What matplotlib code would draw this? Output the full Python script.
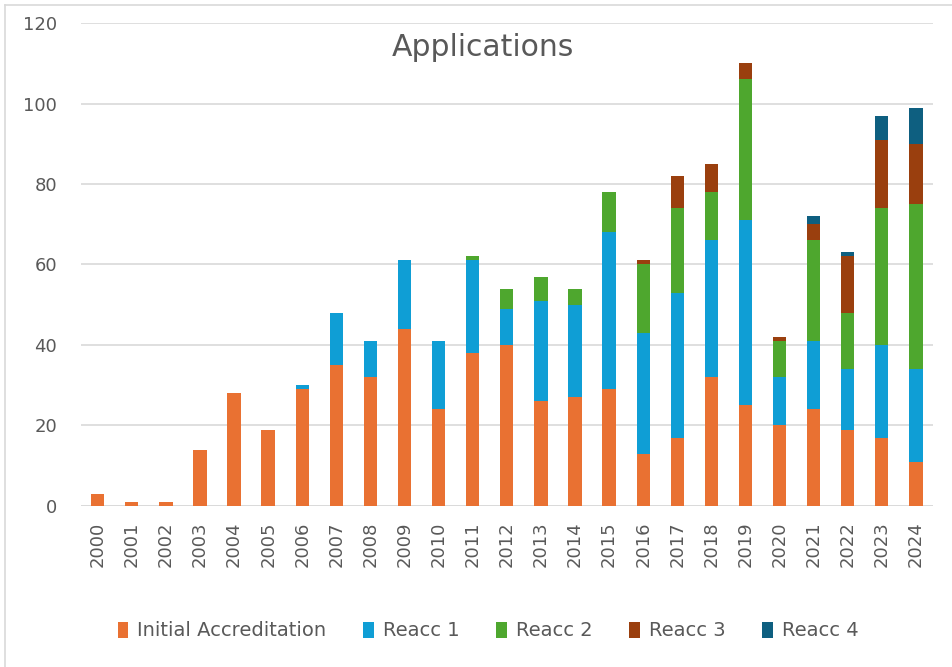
import numpy as np
import matplotlib
matplotlib.use("Agg")
import matplotlib.pyplot as plt
from matplotlib.lines import Line2D

plt.rcParams['font.family'] = ['DejaVu Sans']

years = [str(y) for y in range(2000, 2025)]
initial = [3, 1, 1, 14, 28, 19, 29, 35, 32, 44, 24, 38, 40, 26, 27, 29, 13, 17, 32, 25, 20, 24, 19, 17, 11]
reacc1 = [0, 0, 0, 0, 0, 0, 1, 13, 9, 17, 17, 23, 9, 25, 23, 39, 30, 36, 34, 46, 12, 17, 15, 23, 23]
reacc2 = [0, 0, 0, 0, 0, 0, 0, 0, 0, 0, 0, 1, 5, 6, 4, 10, 17, 21, 12, 35, 9, 25, 14, 34, 41]
reacc3 = [0, 0, 0, 0, 0, 0, 0, 0, 0, 0, 0, 0, 0, 0, 0, 0, 1, 8, 7, 4, 1, 4, 14, 17, 15]
reacc4 = [0, 0, 0, 0, 0, 0, 0, 0, 0, 0, 0, 0, 0, 0, 0, 0, 0, 0, 0, 0, 0, 2, 1, 6, 9]

series = [
    ("Initial Accreditation", initial, "#E97132"),
    ("Reacc 1", reacc1, "#0F9ED5"),
    ("Reacc 2", reacc2, "#4EA72E"),
    ("Reacc 3", reacc3, "#9A3F0E"),
    ("Reacc 4", reacc4, "#0E5F80"),
]

text_color = "#595959"
grid_color = "#D9D9D9"

fig = plt.figure(figsize=(9.53, 6.67), dpi=100)
ax = fig.add_axes([0.0846, 0.2414, 0.979 - 0.0846, 0.9655 - 0.2414])

x = np.arange(len(years))
bottom = np.zeros(len(years))
for name, vals, color in series:
    vals = np.array(vals, dtype=float)
    ax.bar(x, vals, width=0.39, bottom=bottom, color=color, label=name, zorder=3)
    bottom += vals

ax.set_xlim(-0.5, len(years) - 0.5)
ax.set_ylim(0, 120)
ax.set_yticks(range(0, 121, 20))
ax.set_xticks(x)
ax.set_xticklabels(years, rotation=90)
ax.grid(axis='y', color=grid_color, lw=1.2, zorder=0)
for s in ax.spines.values():
    s.set_visible(False)
ax.axhline(0, color=grid_color, lw=1.2, zorder=2)
ax.tick_params(axis='y', length=0, pad=17, labelsize=13, labelcolor=text_color)
ax.tick_params(axis='x', length=0, pad=11, labelsize=13, labelcolor=text_color)

fig.text(483 / 953, 1 - 47 / 667, "Applications", ha='center', va='center',
         fontsize=21.5, color=text_color)

leg = fig.legend(loc='center', bbox_to_anchor=(0.512, 1 - 631 / 667), ncol=5,
                 frameon=False, handlelength=0.55, handleheight=0.85,
                 handletextpad=0.45, columnspacing=1.9, fontsize=14)
for t in leg.get_texts():
    t.set_color(text_color)

# Рамка диаграммы (видны только левый и верхний края)
fig.add_artist(Line2D([5 / 953, 5 / 953], [0, 1 - 5 / 667], transform=fig.transFigure,
                      color=grid_color, lw=1.2))
fig.add_artist(Line2D([5 / 953, 1], [1 - 5 / 667, 1 - 5 / 667], transform=fig.transFigure,
                      color=grid_color, lw=1.2))

fig.savefig("out.png", dpi=100)
